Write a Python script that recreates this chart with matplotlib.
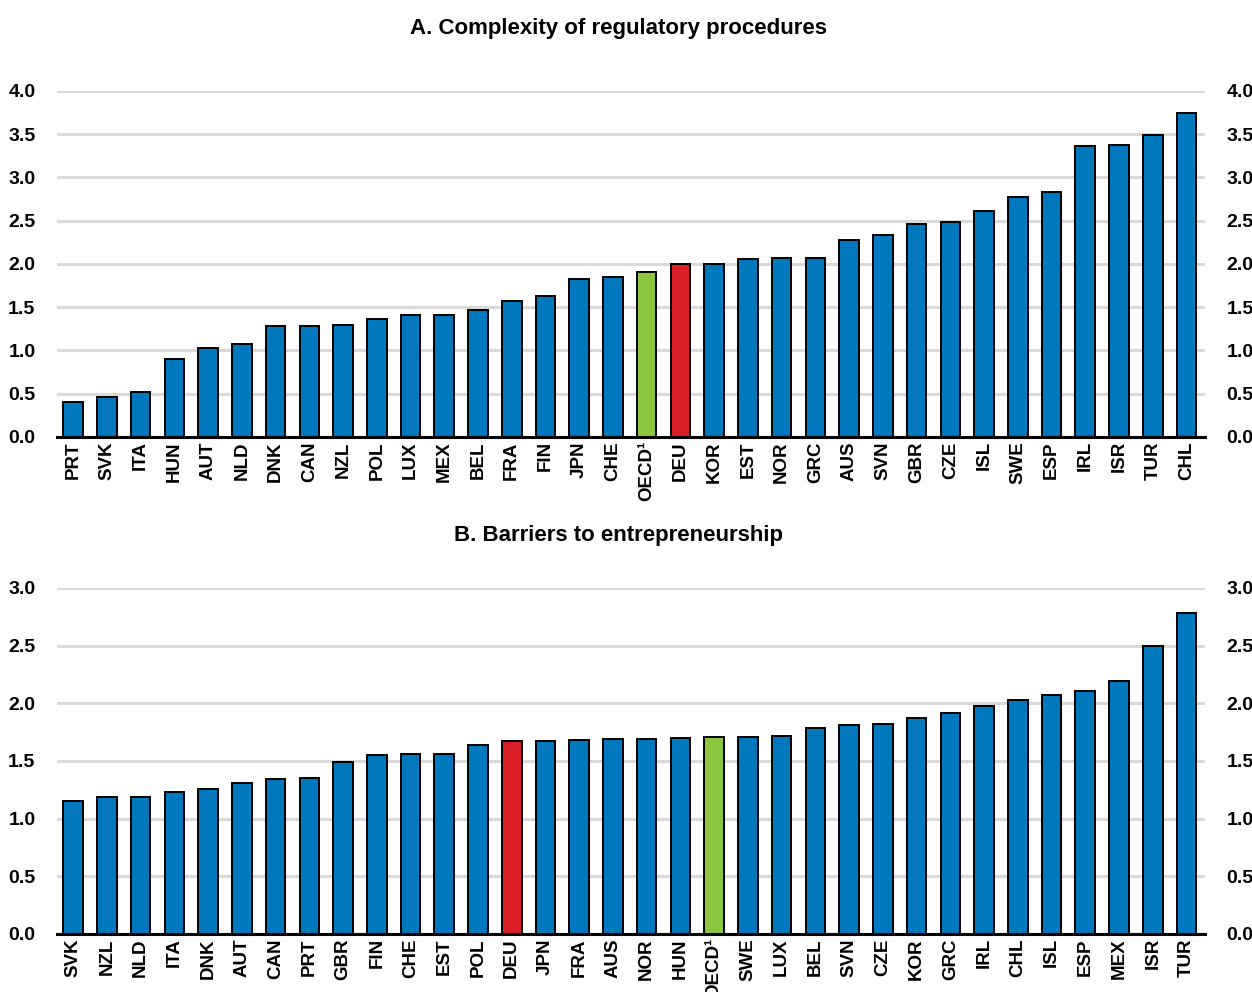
import matplotlib
matplotlib.use("Agg")
import matplotlib.pyplot as plt

plt.rcParams["font.family"] = ["Liberation Sans Narrow", "Liberation Sans", "DejaVu Sans"]
plt.rcParams["font.weight"] = "bold"

# Panel A: complexity of regulatory procedures
countries_a = ["PRT", "SVK", "ITA", "HUN", "AUT", "NLD", "DNK", "CAN", "NZL", "POL",
               "LUX", "MEX", "BEL", "FRA", "FIN", "JPN", "CHE", "OECD¹", "DEU", "KOR",
               "EST", "NOR", "GRC", "AUS", "SVN", "GBR", "CZE", "ISL", "SWE", "ESP",
               "IRL", "ISR", "TUR", "CHL"]
values_a = [0.40, 0.46, 0.52, 0.90, 1.03, 1.08, 1.28, 1.28, 1.29, 1.36,
            1.41, 1.41, 1.47, 1.57, 1.63, 1.83, 1.85, 1.91, 2.00, 2.00,
            2.06, 2.07, 2.07, 2.28, 2.34, 2.46, 2.49, 2.61, 2.77, 2.83,
            3.36, 3.38, 3.49, 3.75]

# Panel B: barriers to entrepreneurship
countries_b = ["SVK", "NZL", "NLD", "ITA", "DNK", "AUT", "CAN", "PRT", "GBR", "FIN",
               "CHE", "EST", "POL", "DEU", "JPN", "FRA", "AUS", "NOR", "HUN", "OECD¹",
               "SWE", "LUX", "BEL", "SVN", "CZE", "KOR", "GRC", "IRL", "CHL", "ISL",
               "ESP", "MEX", "ISR", "TUR"]
values_b = [1.15, 1.19, 1.19, 1.23, 1.26, 1.31, 1.34, 1.35, 1.49, 1.55,
            1.56, 1.56, 1.64, 1.67, 1.67, 1.685, 1.69, 1.69, 1.70, 1.705,
            1.71, 1.72, 1.79, 1.81, 1.82, 1.87, 1.92, 1.98, 2.03, 2.07,
            2.11, 2.19, 2.50, 2.78]

BLUE = "#0078BE"
GREEN = "#8CC63F"
RED = "#DA2128"


def bar_colors(names):
    cols = []
    for n in names:
        if n.startswith("OECD"):
            cols.append(GREEN)
        elif n == "DEU":
            cols.append(RED)
        else:
            cols.append(BLUE)
    return cols


def draw_panel(ax, names, vals, ymax, title, title_y):
    x = range(len(names))
    ax.bar(x, vals, width=0.58, color=bar_colors(names), edgecolor="black",
           linewidth=1.4, zorder=3)
    ax.set_xlim(-0.48, len(names) - 0.45)
    ax.set_ylim(0, ymax)
    ax.set_yticks([i * 0.5 for i in range(int(ymax / 0.5) + 1)])
    ax.set_yticklabels([f"{i * 0.5:.1f}" for i in range(int(ymax / 0.5) + 1)])
    ax.set_xticks(list(x))
    ax.set_xticklabels(names, rotation=90)
    ax.grid(True, axis="y", color="#D9D9D9", linewidth=2.2, zorder=0)
    ax.set_axisbelow(True)
    for side in ["top", "left", "right"]:
        ax.spines[side].set_visible(False)
    ax.spines["bottom"].set_linewidth(2.2)
    ax.spines["bottom"].set_zorder(4)
    ax.tick_params(axis="y", left=False, right=False, labelleft=True,
                   labelright=True, pad=12, labelsize=14)
    ax.tick_params(axis="x", length=0, pad=3, labelsize=13.5)
    fig.text(0.494, title_y, title, ha="center", va="center",
             fontsize=16, fontweight="bold")


fig = plt.figure(figsize=(12.52, 9.92), dpi=100)
ax_a = fig.add_axes([0.0455, 0.5595, 0.917, 0.3488])
ax_b = fig.add_axes([0.0455, 0.0585, 0.917, 0.3488])

draw_panel(ax_a, countries_a, values_a, 4.0,
           "A. Complexity of regulatory procedures", 0.971)
draw_panel(ax_b, countries_b, values_b, 3.0,
           "B. Barriers to entrepreneurship", 0.460)

fig.savefig("out.png", dpi=100)
